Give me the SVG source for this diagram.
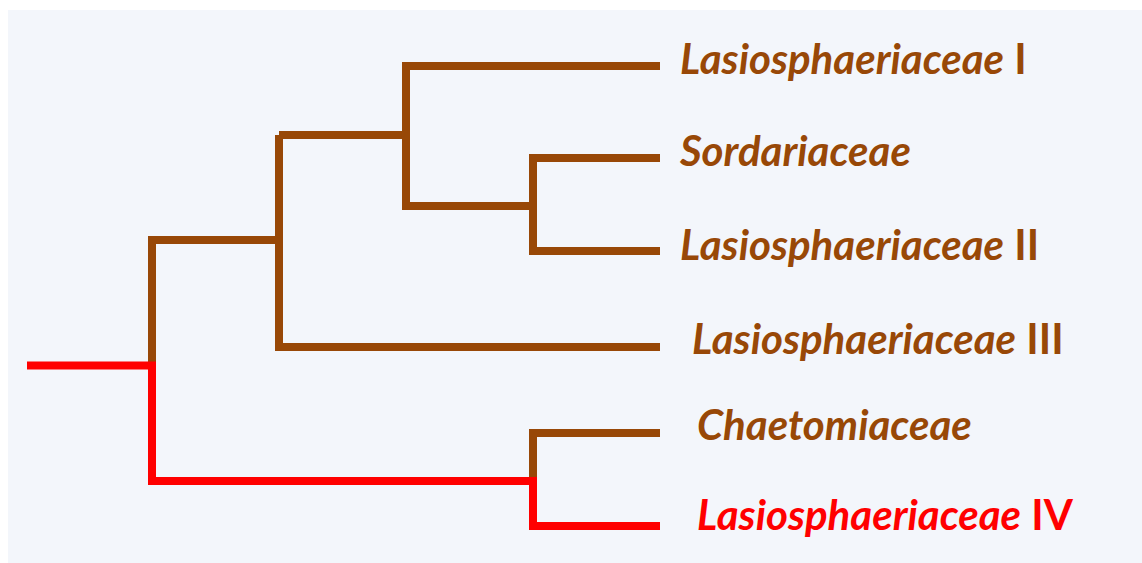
<svg xmlns="http://www.w3.org/2000/svg" width="1142" height="563" viewBox="0 0 1142 563">
<style>
.br{fill:none;stroke:#984807;stroke-width:8;stroke-linejoin:miter;stroke-linecap:butt}
.rd{fill:none;stroke:#FF0000;stroke-width:8;stroke-linejoin:miter;stroke-linecap:butt}
.lbl{font-family:Lato,"Open Sans",sans-serif;font-weight:bold;font-size:42px}
.it{font-style:italic}
.tb{fill:#984807}
.tr{fill:#FF0000}
</style>
<rect x="8" y="10" width="1134" height="553" fill="#F3F6FB"/>
<g id="connectors">
<path class="br" d="M152,365 V240 H279"/>
<path class="br" d="M279,135 V347 H660"/>
<path class="br" d="M279,135 H406"/>
<path class="br" d="M660,66 H406 V206 H533"/>
<path class="br" d="M660,158 H533 V251 H660"/>
<path class="br" d="M660,433 H533 V481"/>
<path class="rd" d="M27,365.5 H152 V481 H533 V526 H660"/>
</g>
<g id="n1"><text class="lbl tb" x="680" y="74"><tspan class="it">Lasiosphaeriaceae</tspan> I</text></g>
<g id="n2"><text class="lbl tb it" x="680" y="166">Sordariaceae</text></g>
<g id="n3"><text class="lbl tb" x="680" y="260"><tspan class="it">Lasiosphaeriaceae</tspan> II</text></g>
<g id="n4"><text class="lbl tb" x="692" y="354"><tspan class="it">Lasiosphaeriaceae</tspan> III</text></g>
<g id="n5"><text class="lbl tb it" x="697" y="440">Chaetomiaceae</text></g>
<g id="n6"><text class="lbl tr" x="697" y="530"><tspan class="it">Lasiosphaeriaceae</tspan> IV</text></g>
</svg>
